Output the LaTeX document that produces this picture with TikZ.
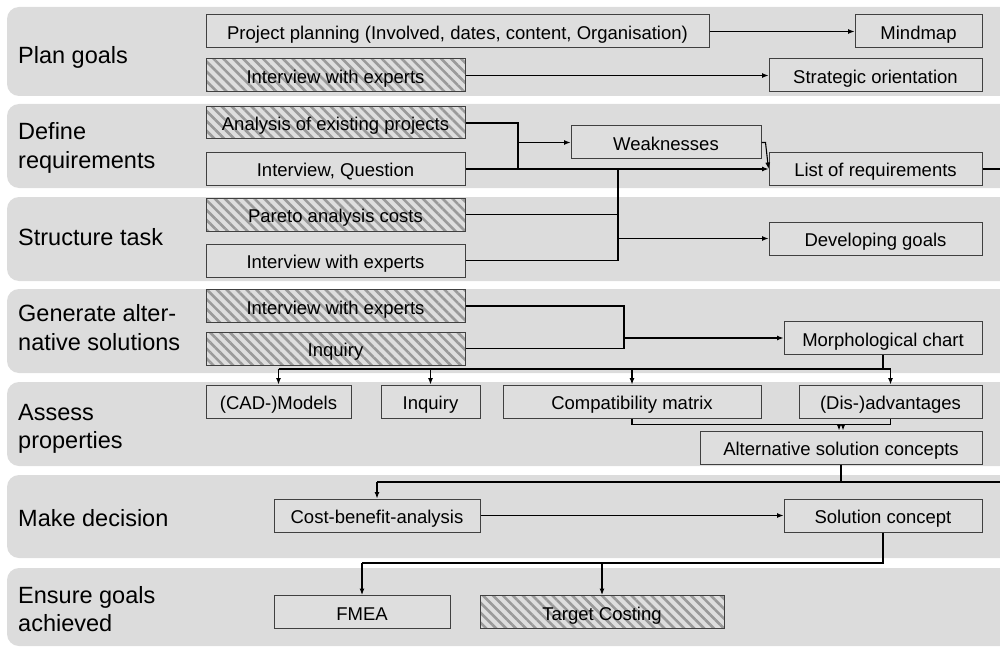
\documentclass[tikz,border=0pt]{standalone}
\usepackage{fontspec}
\setmainfont{Liberation Sans}
\usetikzlibrary{patterns.meta,arrows.meta}
\definecolor{bandgray}{HTML}{DCDCDC}
\definecolor{boxfill}{HTML}{DEDEDE}
\definecolor{boxline}{HTML}{404040}
\definecolor{hatchgray}{HTML}{9A9A9A}
\tikzset{
  box/.style={draw=boxline, line width=1pt, fill=boxfill, inner sep=0pt,
    minimum height=33pt, text height=16pt, text depth=0pt,
    font=\fontsize{18.5}{22}\selectfont},
  hatched/.style={box, preaction={fill=boxfill},
    pattern={Lines[angle=-45,distance=7pt,line width=2.6pt]},
    pattern color=hatchgray},
  phase/.style={anchor=base west, inner sep=0pt,
    font=\fontsize{23.5}{28}\selectfont},
  phaseband/.style={fill=bandgray, rounded corners=12pt},
  link/.style={line width=1.1pt},
  arr/.style={link, -{Latex[length=6.5pt,width=5pt]}},
}
\begin{document}
\begin{tikzpicture}[x=1pt,y=-1pt]
\clip (0,0) rectangle (1000,647);

% phase bands
\fill[phaseband] (7,7)   rectangle (1020,96);
\fill[phaseband] (7,104) rectangle (1020,188);
\fill[phaseband] (7,197) rectangle (1020,281);
\fill[phaseband] (7,289) rectangle (1020,373);
\fill[phaseband] (7,382) rectangle (1020,466);
\fill[phaseband] (7,475) rectangle (1020,558);
\fill[phaseband] (7,568) rectangle (1020,646);

% phase labels
\node[phase] (l1)  at (18,63.3)  {Plan goals};
\node[phase] (l2a) at (18,140)   {Define};
\node[phase] (l2b) at (18,168.5) {requirements};
\node[phase] (l3)  at (18,245)   {Structure task};
\node[phase] (l4a) at (18,321.7) {Generate alter-};
\node[phase] (l4b) at (18,350)   {native solutions};
\node[phase] (l5a) at (18,420.7) {Assess};
\node[phase] (l5b) at (18,448.5) {properties};
\node[phase] (l6)  at (18,526.7) {Make decision};
\node[phase] (l7a) at (18,603)   {Ensure goals};
\node[phase] (l7b) at (18,631.7) {achieved};

% methods and results
\node[box, minimum width=503pt] (pp) at (457.5,31.5) {Project planning (Involved, dates, content, Organisation)};
\node[box, minimum width=127pt] (mm) at (918.5,31.5) {Mindmap};
\node[hatched, minimum width=259pt] (iw1) at (335.5,75.5) {Interview with experts};
\node[box, minimum width=213pt] (so) at (875.5,75.5) {Strategic orientation};

\node[hatched, minimum width=259pt, minimum height=32pt] (ae) at (335.5,123) {Analysis of existing projects};
\node[box, minimum width=259pt] (iq) at (335.5,169) {Interview, Question};
\node[box, minimum width=190pt] (wk) at (666,142.5) {Weaknesses};
\node[box, minimum width=213pt] (lr) at (875.5,169) {List of requirements};

\node[hatched, minimum width=259pt] (pa) at (335.5,214.5) {Pareto analysis costs};
\node[box, minimum width=259pt] (iw3) at (335.5,260.5) {Interview with experts};
\node[box, minimum width=213pt] (dg) at (875.5,238.5) {Developing goals};

\node[hatched, minimum width=259pt] (iw4) at (335.5,306) {Interview with experts};
\node[hatched, minimum width=259pt] (inq4) at (335.5,348.5) {Inquiry};
\node[box, minimum width=198pt] (mc) at (883,338) {Morphological chart};

\node[box, minimum width=145pt] (cad) at (278.5,401.5) {(CAD-)Models};
\node[box, minimum width=99pt] (inq5) at (430.5,401.5) {Inquiry};
\node[box, minimum width=258pt] (cm) at (632,401.5) {Compatibility matrix};
\node[box, minimum width=183pt] (da) at (890.5,401.5) {(Dis-)advantages};
\node[box, minimum width=282pt] (asc) at (841,447.5) {Alternative solution concepts};

\node[box, minimum width=206pt] (cba) at (377,515.5) {Cost-benefit-analysis};
\node[box, minimum width=198pt] (sc) at (883,515.5) {Solution concept};

\node[box, minimum width=176pt] (fmea) at (362,612) {FMEA};
\node[hatched, minimum width=244pt] (tc) at (602,612) {Target Costing};

% plan goals
\draw[arr] (pp.east) -- (pp.east -| mm.west);
\draw[arr] (iw1.east) -- (so.west);

% define requirements
\coordinate (j1) at (518,142.5);
\draw[link] (ae.east) -| (iq.east -| j1);
\draw[arr] (j1) -- (wk.west);
\draw[arr] (iq.east) -- (iq.east -| lr.west);
\draw[arr] (wk.east) -- ++(4,0) -- (lr.west);
\coordinate (e1) at (1000,169);
\draw[link] (lr.east) -- (e1);

% structure task
\coordinate (j2) at (618,238.5);
\draw[link] (pa.east) -- (pa.east -| j2);
\draw[link] (iw3.east) -| (iq.east -| j2);
\draw[arr] (j2) -- (dg.west);

% generate alternative solutions
\coordinate (j3) at (624,338);
\draw[link] (iw4.east) -| (inq4.east -| j3) -- (inq4.east);
\draw[arr] (j3) -- (mc.west);

% assess properties
\coordinate (j4) at (883,369);
\draw[link] (mc.south) -- (j4);
\draw[link] (cad.north |- j4) -- (da.north |- j4);
\foreach \n in {cad,inq5,cm,da}
  \draw[arr] (\n.north |- j4) -- (\n.north);
\draw[arr] (cm.south) -- ++(0,6) -| ([xshift=-2pt]asc.north);
\draw[arr] (da.south) -- ++(0,6) -| ([xshift=2pt]asc.north);

% make decision
\coordinate (j5) at (841,482);
\coordinate (e2) at (1000,482);
\draw[link] (asc.south) -- (j5);
\draw[link] (cba.north |- j5) -- (e2);
\draw[arr] (cba.north |- j5) -- (cba.north);
\draw[arr] (cba.east) -- (sc.west);

% ensure goals achieved
\coordinate (j6) at (883,563);
\draw[link] (sc.south) -- (j6) -- (fmea.north |- j6);
\draw[arr] (fmea.north |- j6) -- (fmea.north);
\draw[arr] (tc.north |- j6) -- (tc.north);
\end{tikzpicture}
\end{document}
